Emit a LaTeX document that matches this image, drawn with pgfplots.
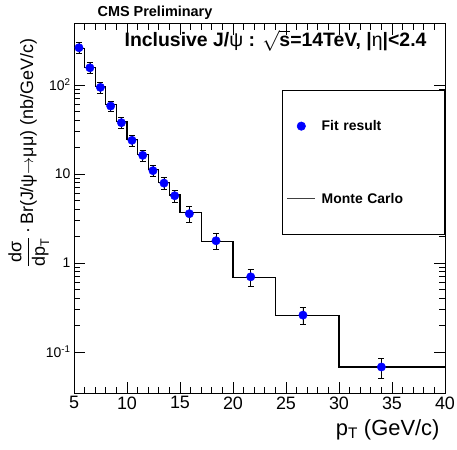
\documentclass[border=0pt]{standalone}
\usepackage{amsmath}
\usepackage{fontspec}
\setmainfont{Liberation Sans}
\usepackage{pgfplots}
\usepackage{pgfplotstable}
\pgfplotsset{compat=1.18}

\pgfplotsset{
  fitlegend/.style={legend image code/.code={
    \draw[mark repeat=2, mark phase=2, ##1] plot coordinates {(0bp,0bp) (14bp,0bp) (28bp,0bp)};}},
  mclegend/.style={legend image code/.code={
    \draw[##1] (0bp,0bp) -- (28bp,0bp);}},
}

% fit result: mean pT, dsigma/dpT*Br, error
\pgfplotstableread{
x      y      e
5.47   262    36
6.50   156    22
7.49   94     13
8.46   58     8
9.47   37.7   5.3
10.47  23.9   3.4
11.48  16.2   2.3
12.45  10.9   1.6
13.49  7.9    1.2
14.50  5.7    0.9
15.88  3.58   0.7
18.40  1.78   0.35
21.67  0.70   0.15
26.60  0.26   0.055
34.00  0.068  0.017
}\fitdata

% Monte Carlo histogram: lower bin edge, content
\pgfplotstableread{
x   y
5   255
6   158
7   96
8   60
9   38.5
10  24.5
11  16.5
12  11.2
13  8.0
14  5.8
15  3.67
17  1.76
20  0.69
24  0.256
30  0.068
40  0.068
}\mcdata

\begin{document}
\begin{tikzpicture}
\useasboundingbox (0,0) rectangle (457bp,450bp);
\begin{axis}[
  at={(74bp,57bp)}, anchor=south west,
  scale only axis, width=371bp, height=369bp,
  xmin=5, xmax=40,
  ymode=log, ymin=0.0347, ymax=484,
  xtick={5,10,...,40}, minor x tick num=4,
  ytick={0.1,1,10,100},
  yticklabels={10\textsuperscript{-1},1,10,10\textsuperscript{2}},
  tick align=inside,
  major tick length=11bp, minor tick length=6bp,
  axis line style={line width=1pt},
  every tick/.append style={black, line width=0.8pt},
  x tick label style={font=\fontsize{18}{20}\selectfont,
    /pgf/number format/assume math mode=true},
  y tick label style={font=\fontsize{14}{16}\selectfont},
  legend style={at={(1,0.821)}, anchor=north east,
    draw=black, line width=0.6pt, fill=white,
    inner xsep=5bp, inner ysep=28bp, row sep=57bp,
    font=\fontsize{14}{16}\selectfont\bfseries,
    nodes={text width=112bp, align=left, inner xsep=6bp}},
  legend cell align=left,
]
\addplot[const plot, black, line width=1.2pt, forget plot] table[x=x, y=y] {\mcdata};

\addplot[only marks, mark=*, mark size=4.2bp, blue, fill=blue, fitlegend,
  error bars/.cd, y dir=both, y explicit,
  error bar style={black, line width=0.8pt},
  error mark options={rotate=90, mark size=3bp, black, line width=0.8pt}]
  table[x=x, y=y, y error=e] {\fitdata};
\addlegendentry{Fit result}

\addlegendimage{black!75, line width=0.8pt, mclegend}
\addlegendentry{Monte Carlo}
\end{axis}

\node[anchor=base, font=\fontsize{14.5}{16}\selectfont\bfseries] at (155bp,433bp) {CMS Preliminary};
\node[anchor=base east, font=\fontsize{19.5}{21}\selectfont\bfseries] at (430bp,403bp)
  {Inclusive J/{\mdseries ψ} : $\sqrt{\text{\bfseries s}}$=14TeV, |{\mdseries η}|<2.4};
\node[anchor=base east, font=\fontsize{22}{24}\selectfont] at (443bp,15bp) {p\textsubscript{T} (GeV/c)};
\node[rotate=90, anchor=base, font=\fontsize{18}{20}\selectfont] at (33bp,297bp)
  {$\dfrac{\text{dσ}}{\text{dp}_{\text{T}}}$\,·\,Br(J/ψ$\rightarrow$μμ) (nb/GeV/c)};
\end{tikzpicture}
\end{document}
